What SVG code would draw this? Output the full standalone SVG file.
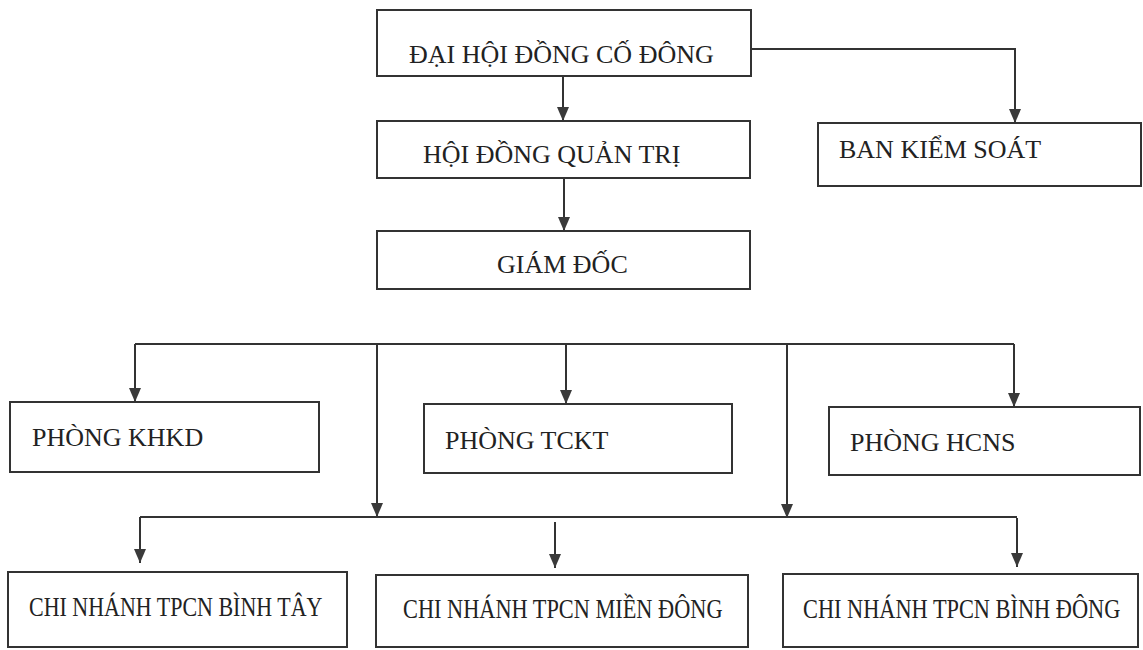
<svg xmlns="http://www.w3.org/2000/svg" width="1143" height="650" viewBox="0 0 1143 650">
<style>
.box{fill:#fff;stroke:#333;stroke-width:2}
.t{font-family:"Liberation Serif","Times New Roman",serif;font-size:26px;fill:#222}
.b{font-size:27px}
.c{fill:none;stroke:#333;stroke-width:2}
</style>
<defs>
<marker id="ah" viewBox="0 0 14 12" refX="14" refY="6" markerWidth="14" markerHeight="12" markerUnits="userSpaceOnUse" orient="auto">
<path d="M0,0 L14,6 L0,12 z" fill="#3a3a3a"/>
</marker>
</defs>
<rect width="1143" height="650" fill="#fff"/>
<g id="connectors">
<path class="c" d="M563,76 V121" marker-end="url(#ah)"/>
<path class="c" d="M564,178 V231" marker-end="url(#ah)"/>
<path class="c" d="M751,49 H1015 V123" marker-end="url(#ah)"/>
<path class="c" d="M135,344 H1014"/>
<path class="c" d="M135,344 V402" marker-end="url(#ah)"/>
<path class="c" d="M566,344 V404" marker-end="url(#ah)"/>
<path class="c" d="M1014,344 V407" marker-end="url(#ah)"/>
<path class="c" d="M377,344 V517" marker-end="url(#ah)"/>
<path class="c" d="M787,344 V518" marker-end="url(#ah)"/>
<path class="c" d="M140,517 H1017"/>
<path class="c" d="M140,517 V563" marker-end="url(#ah)"/>
<path class="c" d="M555,522 V568" marker-end="url(#ah)"/>
<path class="c" d="M1017,518 V567" marker-end="url(#ah)"/>
</g>
<g id="dhdcd">
<rect class="box" x="377" y="10" width="374" height="66"/>
<text class="t" x="409" y="63">ĐẠI HỘI ĐỒNG CỐ ĐÔNG</text>
</g>
<g id="hdqt">
<rect class="box" x="377" y="121" width="373" height="57"/>
<text class="t" x="423" y="163">HỘI ĐỒNG QUẢN TRỊ</text>
</g>
<g id="giamdoc">
<rect class="box" x="377" y="231" width="373" height="58"/>
<text class="t" x="497" y="273">GIÁM ĐỐC</text>
</g>
<g id="bks">
<rect class="box" x="818" y="123" width="323" height="63"/>
<text class="t" x="839" y="158">BAN KIỂM SOÁT</text>
</g>
<g id="khkd">
<rect class="box" x="10" y="402" width="309" height="70"/>
<text class="t" x="32" y="446">PHÒNG KHKD</text>
</g>
<g id="tckt">
<rect class="box" x="424" y="404" width="308" height="69"/>
<text class="t" x="445" y="449">PHÒNG TCKT</text>
</g>
<g id="hcns">
<rect class="box" x="829" y="407" width="311" height="68"/>
<text class="t" x="850" y="451">PHÒNG HCNS</text>
</g>
<g id="binhtay">
<rect class="box" x="8" y="572" width="339" height="75"/>
<text class="t b" transform="translate(29,616) scale(0.814,1)">CHI NHÁNH TPCN BÌNH TÂY</text>
</g>
<g id="miendong">
<rect class="box" x="376" y="575" width="372" height="72"/>
<text class="t b" transform="translate(403,618) scale(0.827,1)">CHI NHÁNH TPCN MIỀN ĐÔNG</text>
</g>
<g id="binhdong">
<rect class="box" x="783" y="574" width="355" height="73"/>
<text class="t b" transform="translate(803,618) scale(0.828,1)">CHI NHÁNH TPCN BÌNH ĐÔNG</text>
</g>
</svg>
